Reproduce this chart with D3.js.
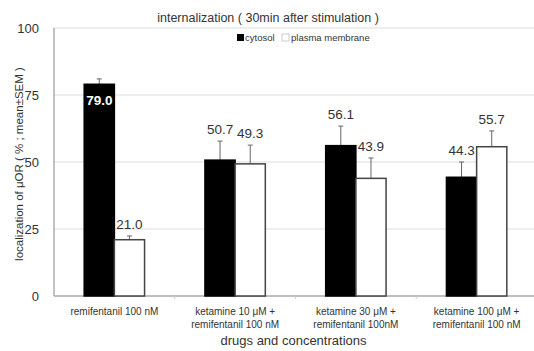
<!DOCTYPE html>
<html>
<head>
<meta charset="utf-8">
<script src="https://cdn.jsdelivr.net/npm/d3@7"></script>
<style>
body { margin: 0; background: #fff; }
text { font-family: "Liberation Sans Narrow", "Liberation Sans", Arial, sans-serif; fill: #333; }
</style>
</head>
<body>
<svg id="grafico" width="534" height="351"></svg>
<script>
// datos
var categorias = [
    ["remifentanil 100 nM"],
    ["ketamine 10 \u03bcM +", "remifentanil 100 nM"],
    ["ketamine 30 \u03bcM +", "remifentanil 100nM"],
    ["ketamine 100 \u03bcM +", "remifentanil 100 nM"]
];
var series = ["cytosol", "plasma membrane"];
var cytosol = [79.0, 50.7, 56.1, 44.3];
var membrana = [21.0, 49.3, 43.9, 55.7];
var semCytosol = [2.0, 7.1, 7.3, 5.7];
var semMembrana = [1.4, 7.0, 7.6, 5.9];
var ticksY = [0, 25, 50, 75, 100];

var izq = 54, der = 537, arriba = 28, abajo = 296;
var svg = d3.select("#grafico");

var x = d3.scaleBand().domain(d3.range(categorias.length)).range([izq, der]);
var xs = d3.scaleBand().domain(series).range([0, x.bandwidth()]).paddingInner(0).paddingOuter(1);
var y = d3.scaleLinear().domain([0, 100]).range([abajo, arriba]);

// rejilla
svg.append("g").selectAll("line").data(ticksY.slice(1)).join("line")
    .attr("x1", izq).attr("x2", der)
    .attr("y1", d => y(d)).attr("y2", d => y(d))
    .attr("stroke", "#ddd").attr("stroke-width", 1.2);

// etiquetas eje Y
svg.append("g").selectAll("text").data(ticksY).join("text")
    .attr("x", 39).attr("y", d => y(d)).attr("dy", "0.35em")
    .attr("text-anchor", "end").style("font-size", "13px")
    .text(d => d);

// ejes
svg.append("line").attr("x1", izq).attr("x2", izq).attr("y1", arriba).attr("y2", abajo)
    .attr("stroke", "#999").attr("stroke-width", 1.2);
svg.append("line").attr("x1", izq).attr("x2", der).attr("y1", abajo).attr("y2", abajo)
    .attr("stroke", "#aaa").attr("stroke-width", 1.5);
svg.append("g").selectAll("line").data(d3.range(1, categorias.length)).join("line")
    .attr("x1", d => x(d)).attr("x2", d => x(d))
    .attr("y1", abajo).attr("y2", abajo + 3)
    .attr("stroke", "#ccc");

var datos = [];
categorias.forEach(function (c, i) {
    datos.push({ i: i, s: series[0], v: cytosol[i], e: semCytosol[i] });
    datos.push({ i: i, s: series[1], v: membrana[i], e: semMembrana[i] });
});

// barras de error (solo hacia arriba)
var err = svg.append("g").selectAll("g").data(datos).join("g");
err.append("line")
    .attr("x1", d => x(d.i) + xs(d.s) + xs.bandwidth() / 2)
    .attr("x2", d => x(d.i) + xs(d.s) + xs.bandwidth() / 2)
    .attr("y1", d => y(d.v)).attr("y2", d => y(d.v + d.e))
    .attr("stroke", "#666").attr("stroke-width", 1);
err.append("line")
    .attr("x1", d => x(d.i) + xs(d.s) + xs.bandwidth() / 2 - 2.5)
    .attr("x2", d => x(d.i) + xs(d.s) + xs.bandwidth() / 2 + 2.5)
    .attr("y1", d => y(d.v + d.e)).attr("y2", d => y(d.v + d.e))
    .attr("stroke", "#666").attr("stroke-width", 1);

// barras
svg.append("g").selectAll("rect").data(datos).join("rect")
    .attr("x", d => x(d.i) + xs(d.s))
    .attr("y", d => y(d.v))
    .attr("width", xs.bandwidth())
    .attr("height", d => y(0) - y(d.v))
    .attr("fill", d => d.s == "cytosol" ? "#000" : "#fff")
    .attr("stroke", d => d.s == "cytosol" ? "#000" : "#444")
    .attr("stroke-width", 1.5);

// valores
svg.append("g").selectAll("text").data(datos).join("text")
    .attr("x", d => x(d.i) + xs(d.s) + xs.bandwidth() / 2)
    .attr("y", function (d) {
        if (d.i == 0 && d.s == "cytosol") return y(d.v) + 21;
        return y(d.v + d.e) - 7;
    })
    .attr("text-anchor", "middle")
    .style("font-size", "13.5px")
    .style("fill", d => (d.i == 0 && d.s == "cytosol") ? "#fff" : "#333")
    .style("font-weight", d => (d.i == 0 && d.s == "cytosol") ? "bold" : "normal")
    .text(d => d.v.toFixed(1));

// etiquetas de categorias
var etiq = svg.append("g").selectAll("text").data(categorias).join("text")
    .attr("text-anchor", "middle").style("font-size", "10px");
etiq.selectAll("tspan").data((d, i) => d.map(t => ({ t: t, i: i }))).join("tspan")
    .attr("x", d => x(d.i) + x.bandwidth() / 2)
    .attr("y", (d, j) => 315 + j * 13)
    .text(d => d.t);

// titulos
svg.append("text").attr("x", 268).attr("y", 22).attr("text-anchor", "middle")
    .style("font-size", "12.5px").text("internalization ( 30min after stimulation )");
svg.append("text").attr("x", (izq + der) / 2 - 2).attr("y", 345).attr("text-anchor", "middle")
    .style("font-size", "13px").text("drugs and concentrations");
svg.append("text").attr("transform", "translate(23," + ((arriba + abajo) / 2 + 2) + ") rotate(-90)")
    .attr("text-anchor", "middle").style("font-size", "11.5px")
    .text("localization of \u03bcOR ( % ; mean\u00b1SEM )");

// leyenda
var ley = svg.append("g").attr("transform", "translate(237,34)");
ley.append("rect").attr("width", 7).attr("height", 7).attr("fill", "#000");
ley.append("text").attr("x", 8).attr("y", 7).style("font-size", "9.5px").text("cytosol");
ley.append("rect").attr("x", 45).attr("width", 7).attr("height", 7).attr("fill", "#fff").attr("stroke", "#ccc");
ley.append("text").attr("x", 54).attr("y", 7).style("font-size", "9.5px").text("plasma membrane");
</script>
</body>
</html>
